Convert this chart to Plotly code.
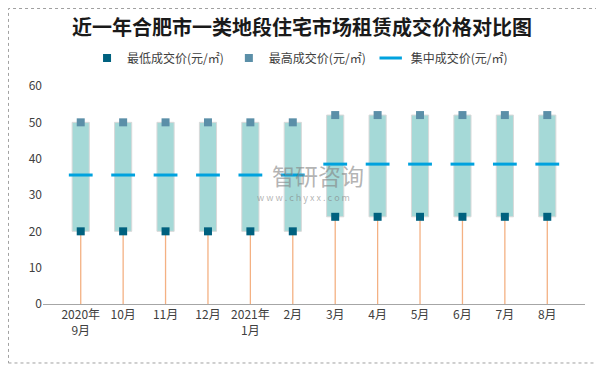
import plotly.graph_objects as go

categories = ["2020年<br>9月", "10月", "11月", "12月", "2021年<br>1月", "2月",
              "3月", "4月", "5月", "6月", "7月", "8月"]
low_price = [20, 20, 20, 20, 20, 20, 24, 24, 24, 24, 24, 24]
high_price = [50, 50, 50, 50, 50, 50, 52, 52, 52, 52, 52, 52]
mid_price = [35.5, 35.5, 35.5, 35.5, 35.5, 35.5, 38.5, 38.5, 38.5, 38.5, 38.5, 38.5]

FONT = "Noto Sans CJK SC"
W, H = 596, 358  # page body has an 8px margin

fig = go.Figure()

# stems from 0 to low
sx, sy = [], []
for c, l in zip(categories, low_price):
    sx += [c, c, None]
    sy += [0, l, None]
fig.add_trace(go.Scatter(x=sx, y=sy, mode="lines", line=dict(color="#F4B183", width=1.3),
                         showlegend=False, hoverinfo="skip"))

# range boxes
fig.add_trace(go.Bar(x=categories, y=[h - l for h, l in zip(high_price, low_price)], base=low_price,
                     width=0.405, marker=dict(color="#A5D9D7", line=dict(color="#D9D9D9", width=1)),
                     showlegend=False, hoverinfo="skip"))

fig.add_trace(go.Scatter(x=categories, y=low_price, mode="markers", name="最低成交价(元/㎡)",
                         marker=dict(symbol="square", size=8, color="#00617F")))
fig.add_trace(go.Scatter(x=categories, y=high_price, mode="markers", name="最高成交价(元/㎡)",
                         marker=dict(symbol="square", size=8, color="#5B8FA8")))
fig.add_trace(go.Scatter(x=categories, y=mid_price, mode="markers", name="集中成交价(元/㎡)",
                         marker=dict(symbol="line-ew", size=17, line=dict(color="#00A2DE", width=3))))

fig.update_layout(
    width=W, height=H,
    margin=dict(l=35, r=19, t=78, b=62, autoexpand=False),
    paper_bgcolor="white", plot_bgcolor="white",
    font=dict(family=FONT, size=12, color="#404040"),
    title=dict(text="<b>近一年合肥市一类地段住宅市场租赁成交价格对比图</b>",
               x=294 / W, xanchor="center", xref="container", y=1 - 20 / H, yanchor="middle",
               yref="container",
               font=dict(family=FONT, size=20, color="#1a1a1a")),
    legend=dict(orientation="h", x=0.49, xanchor="center", xref="container",
                y=1 - 50 / H, yanchor="middle", yref="container",
                font=dict(size=12, color="#404040"), itemwidth=30, bgcolor="rgba(0,0,0,0)"),
    showlegend=True,
)
fig.update_xaxes(showgrid=False, showline=True, linecolor="#A6A6A6", linewidth=1,
                 ticks="", tickfont=dict(size=12, color="#404040"), automargin=False)
fig.update_yaxes(range=[0, 60], dtick=10, showgrid=False, showline=False, zeroline=False,
                 ticks="", tickfont=dict(size=12, color="#404040"), automargin=False)

# outer border
fig.add_shape(type="rect", xref="paper", yref="paper", x0=-0.0637, x1=1.0277, y0=-0.2706, y1=1.3555,
              line=dict(color="#A0A0A0", width=1, dash="dot"), layer="below")

# watermark
fig.add_annotation(text="智研咨询", xref="paper", yref="paper", x=0.507, y=0.592,
                   showarrow=False, font=dict(family=FONT, size=23, color="rgba(130,130,130,0.6)"))
fig.add_annotation(text="w w w . c h y x x . c o m", xref="paper", yref="paper", x=0.48,
                   y=0.49, showarrow=False,
                   font=dict(family=FONT, size=9, color="rgba(130,130,130,0.6)"))

fig.write_html("out.html")
